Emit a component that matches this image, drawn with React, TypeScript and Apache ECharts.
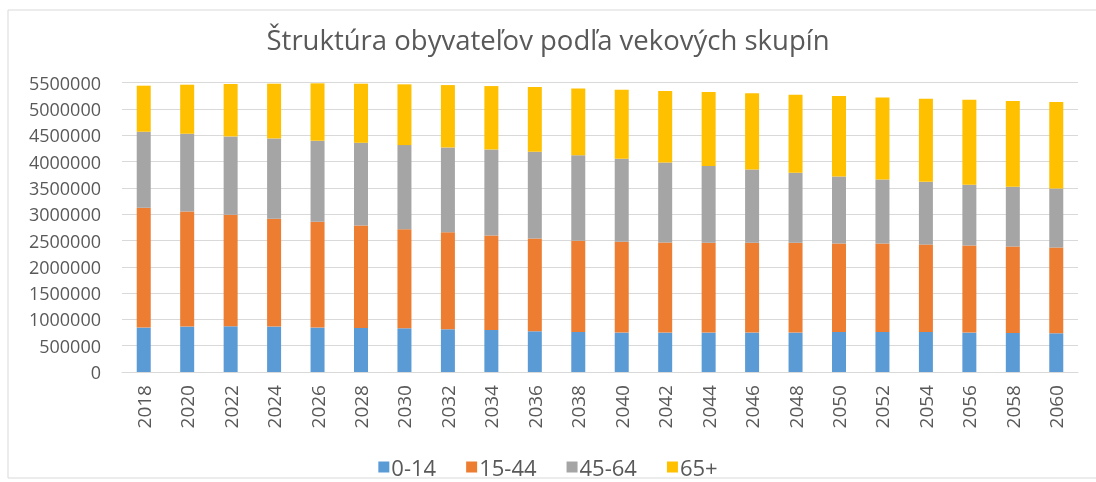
import React, { useEffect, useRef } from "react";
import * as echarts from "echarts";

const years = ["2018","2020","2022","2024","2026","2028","2030","2032","2034","2036","2038","2040","2042","2044","2046","2048","2050","2052","2054","2056","2058","2060"];
const age0_14 = [844000,863000,869000,863000,844000,837000,831000,812000,799000,774000,761000,749000,749000,749000,749000,749000,761000,761000,761000,749000,742000,736000];
const age15_44 = [2277000,2189000,2119000,2049000,2011000,1948000,1884000,1846000,1795000,1764000,1732000,1726000,1713000,1707000,1707000,1707000,1681000,1681000,1662000,1656000,1643000,1630000];
const age45_64 = [1447000,1478000,1491000,1529000,1542000,1573000,1599000,1611000,1637000,1649000,1630000,1580000,1523000,1459000,1396000,1332000,1275000,1218000,1193000,1155000,1136000,1123000];
const age65plus = [875000,932000,996000,1040000,1091000,1123000,1155000,1186000,1205000,1231000,1269000,1313000,1358000,1408000,1446000,1485000,1529000,1561000,1580000,1618000,1630000,1643000];
const seriesNames = ["0-14", "15-44", "45-64", "65+"];
const colors = ["#5B9BD5", "#ED7D31", "#A5A5A5", "#FFC000"];
const title = "Štruktúra obyvateľov podľa vekových skupín";

export default function App() {
  const ref = useRef<HTMLDivElement>(null);
  useEffect(() => {
    if (!ref.current) return;
    const chart = echarts.init(ref.current, undefined, { renderer: "svg" });
    const datasets = [age0_14, age15_44, age45_64, age65plus];
    const font = "'Open Sans', sans-serif";
    chart.setOption({
      animation: false,
      color: colors,
      title: {
        text: title,
        left: "center",
        top: 20,
        textStyle: { fontFamily: font, fontSize: 27.5, fontWeight: "normal", color: "#595959" },
      },
      graphic: [
        {
          type: "rect",
          shape: { x: 8, y: 10, width: 1200, height: 468 },
          style: { fill: "none", stroke: "#D9D9D9", lineWidth: 1 },
          silent: true,
        },
      ],
      legend: {
        data: seriesNames,
        left: "center",
        top: 451,
        icon: "rect",
        itemWidth: 11,
        itemHeight: 11,
        itemGap: 30,
        textStyle: { fontFamily: font, fontSize: 22, color: "#595959", padding: [0, 0, 0, -3] },
      },
      grid: { left: 122, right: 18, top: 82.7, bottom: 110, containLabel: false },
      xAxis: {
        type: "category",
        data: years,
        axisTick: { show: false },
        axisLine: { lineStyle: { color: "#D9D9D9" } },
        axisLabel: { rotate: 90, margin: 13, fontFamily: font, fontSize: 19, color: "#595959" },
      },
      yAxis: {
        type: "value",
        min: 0,
        max: 5500000,
        interval: 500000,
        axisLine: { show: false },
        axisTick: { show: false },
        splitLine: { lineStyle: { color: "#D9D9D9", width: 1 } },
        axisLabel: {
          margin: 21,
          fontFamily: font,
          fontSize: 18,
          color: "#595959",
          formatter: (v: number) => String(v),
        },
      },
      series: seriesNames.map((name, i) => ({
        name,
        type: "bar",
        stack: "total",
        barWidth: 14,
        data: datasets[i],
        itemStyle: { color: colors[i] },
      })),
    });
    return () => chart.dispose();
  }, []);
  return <div ref={ref} style={{ position: "fixed", left: 0, top: 0, width: 1096, height: 482 }} />;
}
